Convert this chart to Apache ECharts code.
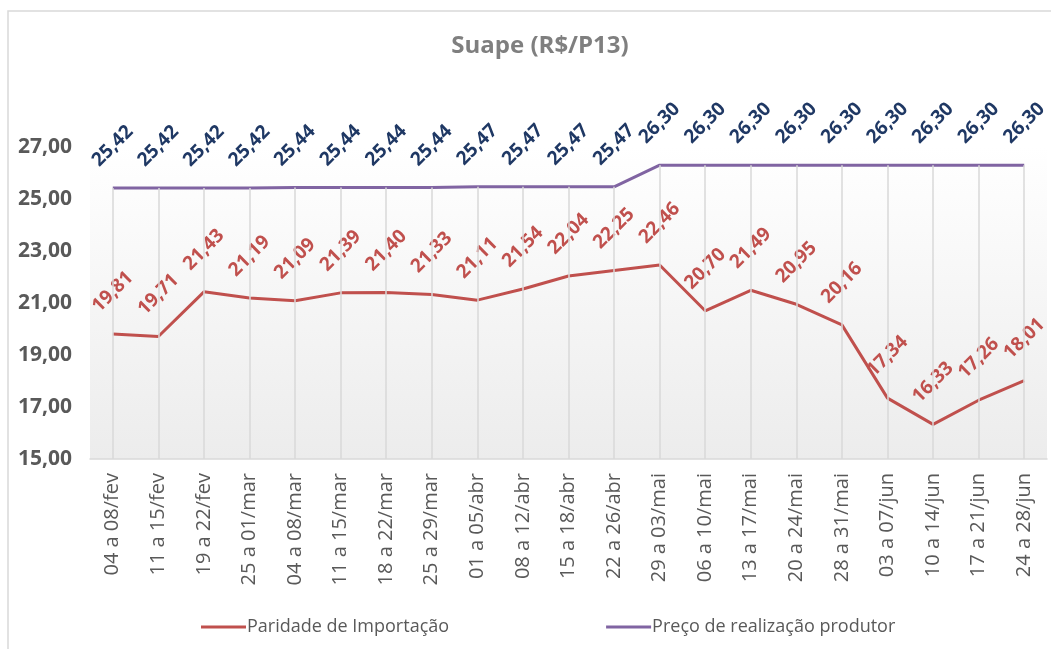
<!DOCTYPE html>
<html>
<head>
<meta charset="utf-8">
<title>Suape (R$/P13)</title>
<script src="https://cdn.jsdelivr.net/npm/echarts@6/dist/echarts.min.js"></script>
<style>
  html, body { margin: 0; padding: 0; background: #fff; }
  #chart { width: 1051px; height: 649px; }
</style>
</head>
<body>
<div id="chart"></div>
<script>
// semanas
var semanas = ['04 a 08/fev', '11 a 15/fev', '19 a 22/fev', '25 a 01/mar', '04 a 08/mar',
  '11 a 15/mar', '18 a 22/mar', '25 a 29/mar', '01 a 05/abr', '08 a 12/abr', '15 a 18/abr',
  '22 a 26/abr', '29 a 03/mai', '06 a 10/mai', '13 a 17/mai', '20 a 24/mai', '28 a 31/mai',
  '03 a 07/jun', '10 a 14/jun', '17 a 21/jun', '24 a 28/jun']
var paridade = [19.81, 19.71, 21.43, 21.19, 21.09, 21.39, 21.40, 21.33, 21.11, 21.54, 22.04,
  22.25, 22.46, 20.70, 21.49, 20.95, 20.16, 17.34, 16.33, 17.26, 18.01]
var precoProdutor = [25.42, 25.42, 25.42, 25.42, 25.44, 25.44, 25.44, 25.44, 25.47, 25.47, 25.47,
  25.47, 26.30, 26.30, 26.30, 26.30, 26.30, 26.30, 26.30, 26.30, 26.30]
var yMin = 15, yMax = 27, yStep = 2

var fmt = function (v) { return Number(v).toFixed(2).replace('.', ',') }
var fonte = '"Open Sans", "Noto Sans", sans-serif'

var chart = echarts.init(document.getElementById('chart'))

function rotuloDados(cor) {
  return {
    show: true,
    position: 'top',
    distance: 42,
    rotate: 45,
    align: 'center',
    verticalAlign: 'middle',
    color: cor,
    fontWeight: 'bold',
    fontSize: 19,
    fontFamily: fonte,
    formatter: function (p) { return fmt(p.value) }
  }
}

// linhas de queda (do ponto mais alto até o eixo)
var linhasQueda = precoProdutor.map(function (v, i) {
  return [{ coord: [i, v] }, { coord: [i, yMin] }]
})

var option = {
  animation: false,
  backgroundColor: '#ffffff',
  graphic: [{
    type: 'rect',
    z: -10,
    shape: { x: 8, y: 11, width: 1100, height: 700 },
    style: { fill: 'none', stroke: '#d9d9d9', lineWidth: 1.5 }
  }],
  title: {
    text: 'Suape (R$/P13)',
    left: 535,
    textAlign: 'center',
    top: 29,
    textStyle: { color: '#7f7f7f', fontSize: 24, fontWeight: 'bold', fontFamily: fonte }
  },
  legend: {
    bottom: 8,
    left: 196,
    itemGap: 157,
    itemWidth: 45,
    itemHeight: 3,
    icon: 'rect',
    data: ['Paridade de Importação', 'Preço de realização produtor'],
    textStyle: { color: '#595959', fontSize: 18, fontFamily: fonte, padding: [0, 0, 0, -4] }
  },
  grid: {
    left: 90, right: 4, top: 147, bottom: 190,
    show: true,
    borderWidth: 0,
    backgroundColor: new echarts.graphic.LinearGradient(0, 0, 0, 1, [
      { offset: 0, color: '#ffffff' },
      { offset: 1, color: '#ececec' }
    ])
  },
  xAxis: {
    type: 'category',
    data: semanas,
    boundaryGap: true,
    axisLine: { lineStyle: { color: '#d9d9d9', width: 1.5 } },
    axisTick: { show: false },
    splitLine: { show: false },
    axisLabel: {
      interval: 0,
      rotate: 90,
      margin: 14,
      color: '#595959',
      fontSize: 20,
      fontFamily: fonte
    }
  },
  yAxis: {
    type: 'value',
    min: yMin,
    max: yMax,
    interval: yStep,
    axisLine: { show: false },
    axisTick: { show: false },
    splitLine: { show: false },
    axisLabel: {
      margin: 18,
      color: '#595959',
      fontSize: 21,
      fontWeight: 'bold',
      fontFamily: fonte,
      formatter: fmt
    }
  },
  series: [
    {
      name: 'quedas',
      type: 'line',
      data: [],
      z: 1,
      silent: true,
      markLine: {
        silent: true,
        symbol: ['none', 'none'],
        label: { show: false },
        lineStyle: { type: 'solid', color: '#d9d9d9', width: 1.5 },
        data: linhasQueda
      }
    },
    {
      name: 'Paridade de Importação',
      type: 'line',
      data: paridade,
      z: 3,
      showSymbol: true,
      symbol: 'circle',
      symbolSize: 0,
      lineStyle: { color: '#c0504d', width: 3 },
      itemStyle: { color: '#c0504d' },
      label: rotuloDados('#c0504d')
    },
    {
      name: 'Preço de realização produtor',
      type: 'line',
      data: precoProdutor,
      z: 3,
      showSymbol: true,
      symbol: 'circle',
      symbolSize: 0,
      lineStyle: { color: '#8064a2', width: 3 },
      itemStyle: { color: '#8064a2' },
      label: rotuloDados('#1f3864')
    }
  ]
}

chart.setOption(option)
</script>
</body>
</html>
